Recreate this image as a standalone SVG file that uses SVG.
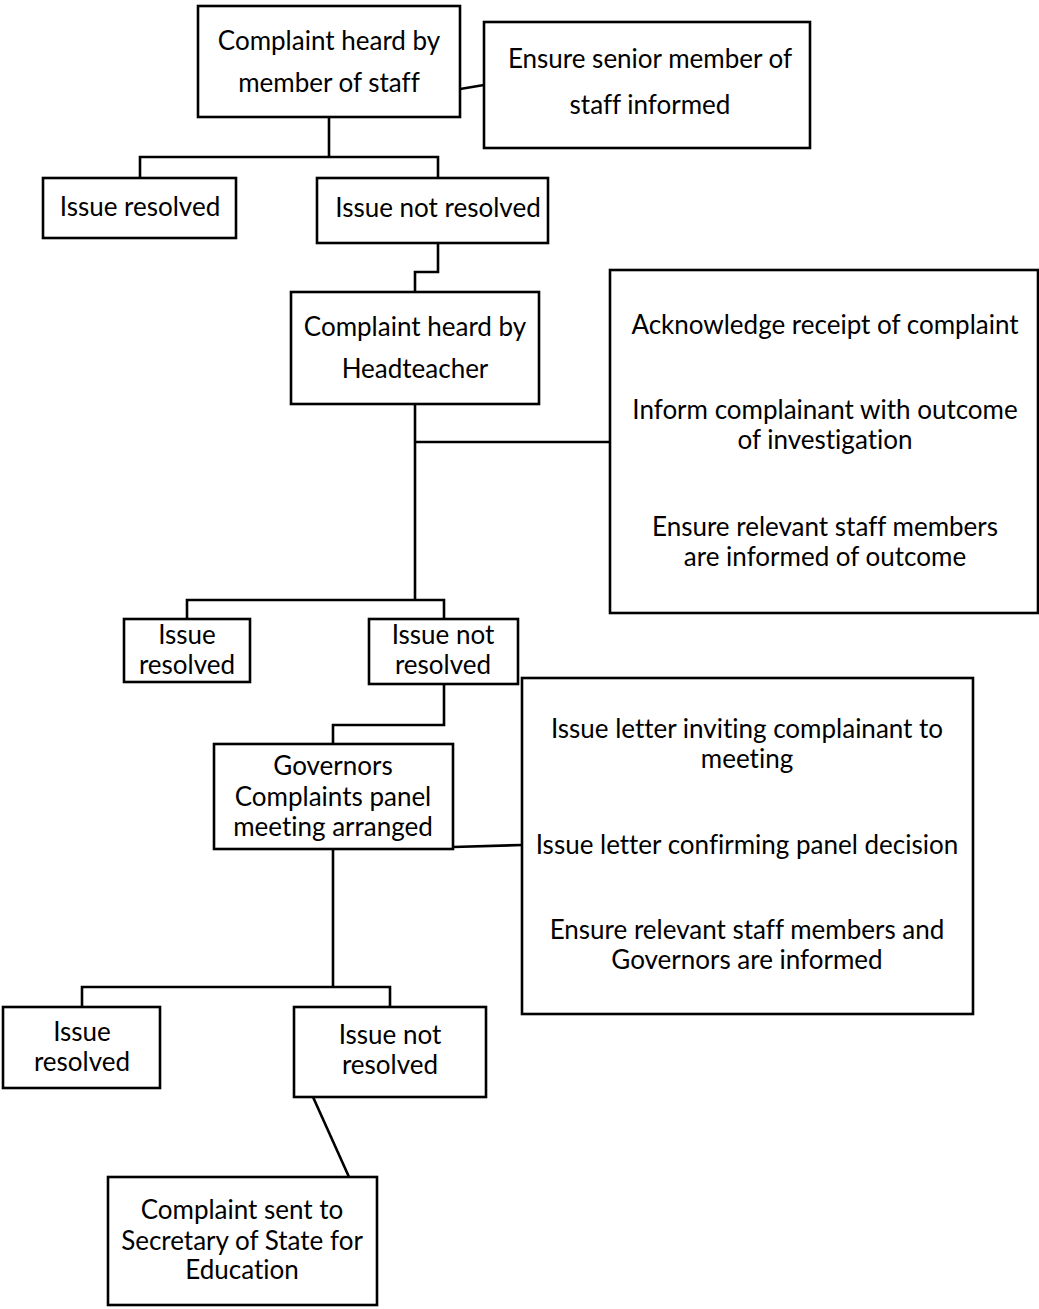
<svg xmlns="http://www.w3.org/2000/svg" width="1039" height="1309" viewBox="0 0 1039 1309">
<style>
.box{fill:#fff;stroke:#000;stroke-width:2.6}
.ln{fill:none;stroke:#000;stroke-width:2.6}
text{font-family:Lato,"Liberation Sans",sans-serif;font-size:26px;fill:#000;text-anchor:middle;font-variant-ligatures:none;font-feature-settings:"liga" 0,"clig" 0}
</style>
<rect width="1039" height="1309" fill="#fff"/>
<g id="connectors">
<polyline class="ln" points="460,89 484,85"/>
<polyline class="ln" points="329,117 329,157"/>
<polyline class="ln" points="140,178 140,157 438,157 438,178"/>
<polyline class="ln" points="438,243 438,272 415,272 415,292"/>
<polyline class="ln" points="415,404 415,600"/>
<polyline class="ln" points="415,442 610,442"/>
<polyline class="ln" points="187,619 187,600 444,600 444,619"/>
<polyline class="ln" points="444,684 444,725 333,725 333,744"/>
<polyline class="ln" points="453,847 522,845"/>
<polyline class="ln" points="333,849 333,987"/>
<polyline class="ln" points="82,1007 82,987 390,987 390,1007"/>
<polyline class="ln" points="313,1097 349,1177"/>
</g>
<g id="n1"><rect class="box" x="198" y="6" width="262" height="111"/><text x="329" y="50">Complaint heard by</text><text x="329" y="92">member of staff</text></g>
<g id="n2"><rect class="box" x="484" y="22" width="326" height="126"/><text x="650" y="68">Ensure senior member of</text><text x="650" y="114">staff informed</text></g>
<g id="n3"><rect class="box" x="43" y="178" width="193" height="60"/><text x="140" y="216">Issue resolved</text></g>
<g id="n4"><rect class="box" x="317" y="178" width="231" height="65"/><text x="438" y="217">Issue not resolved</text></g>
<g id="n5"><rect class="box" x="291" y="292" width="248" height="112"/><text x="415" y="336">Complaint heard by</text><text x="415" y="378">Headteacher</text></g>
<g id="n6"><rect class="box" x="610" y="270" width="428" height="343"/><text x="825" y="334">Acknowledge receipt of complaint</text><text x="825" y="419">Inform complainant with outcome</text><text x="825" y="449">of investigation</text><text x="825" y="536">Ensure relevant staff members</text><text x="825" y="566">are informed of outcome</text></g>
<g id="n7"><rect class="box" x="124" y="619" width="126" height="63"/><text x="187" y="644">Issue</text><text x="187" y="674">resolved</text></g>
<g id="n8"><rect class="box" x="369" y="619" width="149" height="65"/><text x="443" y="644">Issue not</text><text x="443" y="674">resolved</text></g>
<g id="n9"><rect class="box" x="214" y="744" width="239" height="105"/><text x="333" y="775">Governors</text><text x="333" y="806">Complaints panel</text><text x="333" y="836">meeting arranged</text></g>
<g id="n10"><rect class="box" x="522" y="678" width="451" height="336"/><text x="747" y="738">Issue letter inviting complainant to</text><text x="747" y="768">meeting</text><text x="747" y="854">Issue letter confirming panel decision</text><text x="747" y="939">Ensure relevant staff members and</text><text x="747" y="969">Governors are informed</text></g>
<g id="n11"><rect class="box" x="3" y="1007" width="157" height="81"/><text x="82" y="1041">Issue</text><text x="82" y="1071">resolved</text></g>
<g id="n12"><rect class="box" x="294" y="1007" width="192" height="90"/><text x="390" y="1044">Issue not</text><text x="390" y="1074">resolved</text></g>
<g id="n13"><rect class="box" x="108" y="1177" width="269" height="128"/><text x="242" y="1219">Complaint sent to</text><text x="242" y="1250">Secretary of State for</text><text x="242" y="1279">Education</text></g>
</svg>
